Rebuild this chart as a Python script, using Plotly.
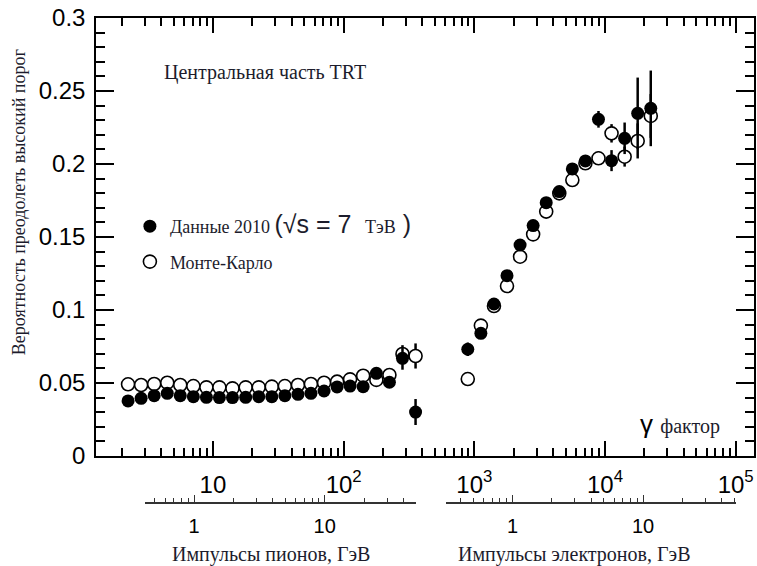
import math
import plotly.graph_objects as go

# Lorentz factor of the bin centres and threshold probabilities
pion_gamma = [2.24, 2.82, 3.55, 4.47, 5.62, 7.08, 8.91, 11.2, 14.1, 17.8, 22.4, 28.2,
              35.5, 44.7, 56.2, 70.8, 89.1, 112, 141, 178, 224, 282, 355]
pion_data = [0.0377, 0.0395, 0.0413, 0.0429, 0.0413, 0.0406, 0.0402, 0.0400, 0.0400,
             0.0402, 0.0406, 0.0406, 0.0413, 0.0422, 0.0429, 0.0445, 0.0473, 0.0479,
             0.0475, 0.0566, 0.0505, 0.0669, 0.0301]
pion_data_err = [0.001, 0.001, 0.001, 0.001, 0.001, 0.001, 0.001, 0.001, 0.001, 0.001,
                 0.001, 0.001, 0.001, 0.001, 0.001, 0.001, 0.0015, 0.0015, 0.0015,
                 0.002, 0.002, 0.0078, 0.0089]
pion_mc = [0.0491, 0.0486, 0.0493, 0.0502, 0.0486, 0.0479, 0.0470, 0.0470, 0.0463,
           0.0470, 0.0470, 0.0475, 0.0479, 0.0486, 0.0493, 0.0502, 0.0509, 0.0525,
           0.0550, 0.0521, 0.0555, 0.0699, 0.0685]
pion_mc_err = [0.001, 0.001, 0.001, 0.001, 0.001, 0.001, 0.001, 0.001, 0.001, 0.001,
               0.001, 0.001, 0.001, 0.001, 0.001, 0.001, 0.001, 0.001, 0.0015,
               0.0015, 0.002, 0.006, 0.0086]

elec_gamma = [891, 1122, 1413, 1778, 2239, 2818, 3548, 4467, 5623, 7079, 8913,
              11220, 14130, 17780, 22390]
elec_data = [0.0731, 0.0840, 0.1041, 0.1235, 0.1445, 0.1578, 0.1735, 0.1811, 0.1966,
             0.2021, 0.2306, 0.2023, 0.2176, 0.2347, 0.2381]
elec_data_err = [0.0046, 0.002, 0.002, 0.002, 0.002, 0.002, 0.002, 0.002, 0.002,
                 0.003, 0.0057, 0.0072, 0.0108, 0.0245, 0.0259]
elec_mc = [0.0527, 0.0893, 0.1027, 0.1164, 0.1365, 0.1518, 0.1674, 0.1799, 0.1890,
           0.2005, 0.2039, 0.2210, 0.2050, 0.2158, 0.2329]
elec_mc_err = [0.002, 0.002, 0.002, 0.002, 0.002, 0.002, 0.002, 0.002, 0.002,
               0.003, 0.0046, 0.0063, 0.0068, 0.012, 0.015]

gamma_ticks = [10, 100, 1000, 10000, 100000]
gamma_labels = ["10", "10<sup>2</sup>", "10<sup>3</sup>", "10<sup>4</sup>", "10<sup>5</sup>"]
p_ticks = [1, 10]
p_labels = ["1", "10"]

M_PION = 0.13957   # GeV
M_ELEC = 0.000511  # GeV

SANS = "Liberation Sans"
SERIF = "Liberation Serif"
INK = "#1c1c2c"

# main log-gamma range and the vertical layout of the paper
G0, G1 = 0.105, 5.140
Y_DOMAIN = [0.1098, 1.0]
MOM_AXIS_POS = 0.0142


def dom(g_lo, g_hi):
    return [(math.log10(g_lo) - G0) / (G1 - G0), (math.log10(g_hi) - G0) / (G1 - G0)]


def mom_range(d, mass):
    return [G0 + d[0] * (G1 - G0) + math.log10(mass), G0 + d[1] * (G1 - G0) + math.log10(mass)]


def log_minors(lo, hi, start_exp, end_exp):
    vals = []
    for e in range(start_exp, end_exp + 1):
        for k in range(2, 10):
            v = k * 10 ** e
            if lo <= v <= hi:
                vals.append(v)
    return vals


def momentum_axis(d, mass, minor_lo, minor_hi):
    return dict(
        type="log", domain=d, range=mom_range(d, mass),
        anchor="free", position=MOM_AXIS_POS, side="bottom",
        showline=True, linecolor="#333333", linewidth=1.5,
        ticks="inside", ticklen=7, tickwidth=1.2, tickcolor="#333333",
        tickmode="array", tickvals=p_ticks, ticktext=p_labels,
        tickfont=dict(family=SANS, size=20, color="black"),
        ticklabelstandoff=5,
        showgrid=False, zeroline=False,
        minor=dict(tickmode="array", tickvals=log_minors(minor_lo, minor_hi, -1, 1),
                   ticks="inside", ticklen=4, tickwidth=1.2, tickcolor="#333333",
                   showgrid=False),
    )


pion_dom = dom(3.0, 358.0)
elec_dom = dom(611.0, 100000.0)

fig = go.Figure()

# Monte-Carlo first (white-filled rings hide their own error bars), data on top
fig.add_trace(go.Scatter(
    x=pion_gamma + elec_gamma, y=pion_mc + elec_mc,
    mode="markers",
    name="Монте-Карло",
    marker=dict(symbol="circle", size=13, color="white",
                line=dict(width=1.6, color="black")),
    error_y=dict(type="data", array=pion_mc_err + elec_mc_err, thickness=2.5,
                 width=0, color="black"),
    legendgroup="mc", legendrank=2,
))
fig.add_trace(go.Scatter(
    x=pion_gamma + elec_gamma, y=pion_data + elec_data,
    mode="markers",
    name=("Данные 2010 <span style='font-family:Liberation Sans;font-size:25px'>(√s = 7</span>"
          "   <span style='font-size:18px'>ТэВ</span>"
          "<span style='font-family:Liberation Sans;font-size:25px'> )</span>"),
    marker=dict(symbol="circle", size=13, color="black"),
    error_y=dict(type="data", array=pion_data_err + elec_data_err, thickness=2.5,
                 width=0, color="black"),
    legendgroup="data", legendrank=1,
))

# empty traces that bind the two momentum scales to the figure
for xa, ya in (("x2", "y2"), ("x3", "y3")):
    fig.add_trace(go.Scatter(x=p_ticks, y=[None, None], xaxis=xa, yaxis=ya,
                             mode="markers", showlegend=False, hoverinfo="skip"))

hidden_y = dict(visible=False, range=[0, 1], domain=Y_DOMAIN, showgrid=False,
                zeroline=False)

fig.update_layout(
    width=757, height=566,
    margin=dict(l=96, r=1, t=18, b=56, pad=0),
    paper_bgcolor="white", plot_bgcolor="rgba(0,0,0,0)",
    font=dict(family=SANS, color="black"),
    showlegend=True,
    legend=dict(
        x=(130 - 96) / 660, y=(510 - 208) / 492, xanchor="left", yanchor="top",
        bgcolor="rgba(0,0,0,0)", borderwidth=0,
        font=dict(family=SERIF, size=18, color=INK),
        traceorder="grouped", tracegroupgap=9,
    ),
    xaxis=dict(
        type="log", range=[G0, G1], domain=[0, 1], anchor="y",
        showline=True, linecolor="black", linewidth=1.5, mirror="allticks",
        ticks="inside", ticklen=15, tickwidth=1.5, tickcolor="black",
        tickmode="array", tickvals=gamma_ticks, ticktext=gamma_labels,
        tickfont=dict(family=SANS, size=24, color="black"),
        ticklabelstandoff=6,
        showgrid=False, zeroline=False,
        minor=dict(tickmode="array", tickvals=log_minors(1.2, 140000, 0, 5),
                   ticks="inside", ticklen=8, tickwidth=1.5, tickcolor="black",
                   showgrid=False),
    ),
    yaxis=dict(
        range=[0, 0.3], domain=Y_DOMAIN, anchor="x",
        showline=True, linecolor="black", linewidth=1.5, mirror="allticks",
        ticks="inside", ticklen=18, tickwidth=1.5, tickcolor="black",
        tick0=0, dtick=0.05,
        tickfont=dict(family=SANS, size=24, color="black"),
        ticklabelstandoff=4,
        showgrid=False, zeroline=False,
        minor=dict(dtick=0.01, ticks="inside", ticklen=9, tickwidth=1.5,
                   tickcolor="black", showgrid=False),
    ),
    xaxis2=momentum_axis(pion_dom, M_PION, 0.4, 51),
    xaxis3=momentum_axis(elec_dom, M_ELEC, 0.3, 52),
    yaxis2=dict(hidden_y, anchor="x2"),
    yaxis3=dict(hidden_y, anchor="x3"),
)

annotations = [
    dict(text="Центральная часть TRT", x=(266 - 96) / 660, y=(510 - 72) / 492,
         font=dict(family=SERIF, size=20, color=INK)),
    dict(text="Вероятность преодолеть высокий порог", x=(19 - 96) / 660, y=(510 - 202) / 492,
         textangle=-90, font=dict(family=SERIF, size=18, color=INK)),
    dict(text=("γ <span style='font-family:Liberation Serif;font-size:20px;color:#1c1c2c'>"
               "фактор</span>"),
         x=(682 - 96) / 660, y=(510 - 424) / 492,
         font=dict(family=SANS, size=26, color="black")),
    dict(text="Импульсы пионов, ГэВ", x=(272 - 96) / 660, y=(510 - 554) / 492,
         font=dict(family=SERIF, size=20, color=INK)),
    dict(text="Импульсы электронов, ГэВ", x=(576 - 96) / 660, y=(510 - 554) / 492,
         font=dict(family=SERIF, size=20, color=INK)),
]
for a in annotations:
    a.update(xref="paper", yref="paper", showarrow=False, xanchor="center", yanchor="middle")
fig.update_layout(annotations=annotations)

fig.write_html("out.html")
